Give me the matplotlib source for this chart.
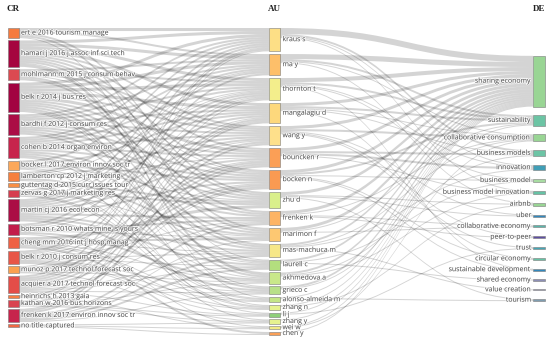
import matplotlib
matplotlib.use("Agg")
import matplotlib.pyplot as plt
from matplotlib.path import Path
from matplotlib.patches import PathPatch, Rectangle
import matplotlib.patheffects as pe

# ---------------- data ----------------
cr_names = ["ert e 2016 tourism manage", "hamari j 2016 j assoc inf sci tech",
            "mohlmann m 2015 j consum behav", "belk r 2014 j bus res",
            "bardhi f 2012 j consum res", "cohen b 2014 organ environ",
            "bocker l 2017 environ innov soc tr", "lamberton cp 2012 j marketing",
            "guttentag d 2015 curr issues tour", "zervas g 2017 j marketing res",
            "martin cj 2016 ecol econ", "botsman r 2010 whats mine is yours",
            "cheng mm 2016 int j hosp manag", "belk r 2010 j consum res",
            "munoz p 2017 technol forecast soc", "acquier a 2017 technol forecast soc",
            "heinrichs h 2013 gaia", "kathan w 2016 bus horizons",
            "frenken k 2017 environ innov soc tr", "no title captured"]

au_names = ["kraus s", "ma y", "thornton t", "mangalagiu d", "wang y", "bouncken r",
            "bocken n", "zhu d", "frenken k", "marimon f", "mas-machuca m", "laurell c",
            "akhmedova a", "grieco c", "alonso-almeida m", "zhang n", "li j", "zhang y",
            "wei w", "chen y"]

de_names = ["sharing economy", "sustainability", "collaborative consumption",
            "business models", "innovation", "business model", "business model innovation",
            "airbnb", "uber", "collaborative economy", "peer-to-peer", "trust",
            "circular economy", "sustainable development", "shared economy",
            "value creation", "tourism"]

# CR -> AU links: (source, target, value)
links_cr_au = [
    ("ert e 2016 tourism manage", "kraus s", 3), ("ert e 2016 tourism manage", "ma y", 2),
    ("ert e 2016 tourism manage", "zhu d", 2), ("ert e 2016 tourism manage", "marimon f", 2),
    ("ert e 2016 tourism manage", "alonso-almeida m", 1),
    ("hamari j 2016 j assoc inf sci tech", "kraus s", 3), ("hamari j 2016 j assoc inf sci tech", "ma y", 3),
    ("hamari j 2016 j assoc inf sci tech", "thornton t", 3), ("hamari j 2016 j assoc inf sci tech", "mangalagiu d", 3),
    ("hamari j 2016 j assoc inf sci tech", "wang y", 2), ("hamari j 2016 j assoc inf sci tech", "bouncken r", 2),
    ("hamari j 2016 j assoc inf sci tech", "bocken n", 2), ("hamari j 2016 j assoc inf sci tech", "zhu d", 2),
    ("hamari j 2016 j assoc inf sci tech", "frenken k", 2), ("hamari j 2016 j assoc inf sci tech", "laurell c", 1),
    ("hamari j 2016 j assoc inf sci tech", "akhmedova a", 3),
    ("mohlmann m 2015 j consum behav", "ma y", 2), ("mohlmann m 2015 j consum behav", "thornton t", 2),
    ("mohlmann m 2015 j consum behav", "wang y", 2), ("mohlmann m 2015 j consum behav", "bocken n", 1),
    ("mohlmann m 2015 j consum behav", "marimon f", 2), ("mohlmann m 2015 j consum behav", "mas-machuca m", 2),
    ("belk r 2014 j bus res", "kraus s", 3), ("belk r 2014 j bus res", "ma y", 3),
    ("belk r 2014 j bus res", "thornton t", 3), ("belk r 2014 j bus res", "mangalagiu d", 3),
    ("belk r 2014 j bus res", "wang y", 2), ("belk r 2014 j bus res", "bouncken r", 3),
    ("belk r 2014 j bus res", "bocken n", 2), ("belk r 2014 j bus res", "zhu d", 2),
    ("belk r 2014 j bus res", "frenken k", 2), ("belk r 2014 j bus res", "mas-machuca m", 2),
    ("belk r 2014 j bus res", "akhmedova a", 2), ("belk r 2014 j bus res", "grieco c", 1),
    ("belk r 2014 j bus res", "zhang n", 1),
    ("bardhi f 2012 j consum res", "kraus s", 2), ("bardhi f 2012 j consum res", "ma y", 2),
    ("bardhi f 2012 j consum res", "thornton t", 2), ("bardhi f 2012 j consum res", "mangalagiu d", 2),
    ("bardhi f 2012 j consum res", "wang y", 2), ("bardhi f 2012 j consum res", "bouncken r", 2),
    ("bardhi f 2012 j consum res", "bocken n", 2), ("bardhi f 2012 j consum res", "zhu d", 2),
    ("bardhi f 2012 j consum res", "marimon f", 2), ("bardhi f 2012 j consum res", "laurell c", 2),
    ("cohen b 2014 organ environ", "kraus s", 2), ("cohen b 2014 organ environ", "ma y", 2),
    ("cohen b 2014 organ environ", "thornton t", 2), ("cohen b 2014 organ environ", "mangalagiu d", 2),
    ("cohen b 2014 organ environ", "wang y", 2), ("cohen b 2014 organ environ", "bouncken r", 2),
    ("cohen b 2014 organ environ", "bocken n", 2), ("cohen b 2014 organ environ", "frenken k", 2),
    ("cohen b 2014 organ environ", "mas-machuca m", 2), ("cohen b 2014 organ environ", "grieco c", 2),
    ("cohen b 2014 organ environ", "li j", 1),
    ("bocker l 2017 environ innov soc tr", "kraus s", 2), ("bocker l 2017 environ innov soc tr", "mangalagiu d", 2),
    ("bocker l 2017 environ innov soc tr", "bocken n", 2), ("bocker l 2017 environ innov soc tr", "zhu d", 1),
    ("bocker l 2017 environ innov soc tr", "laurell c", 1), ("bocker l 2017 environ innov soc tr", "zhang y", 1),
    ("lamberton cp 2012 j marketing", "ma y", 2), ("lamberton cp 2012 j marketing", "thornton t", 1),
    ("lamberton cp 2012 j marketing", "wang y", 2), ("lamberton cp 2012 j marketing", "bouncken r", 1),
    ("lamberton cp 2012 j marketing", "marimon f", 2), ("lamberton cp 2012 j marketing", "akhmedova a", 1),
    ("guttentag d 2015 curr issues tour", "zhu d", 2), ("guttentag d 2015 curr issues tour", "alonso-almeida m", 1),
    ("guttentag d 2015 curr issues tour", "zhang n", 1),
    ("zervas g 2017 j marketing res", "ma y", 1), ("zervas g 2017 j marketing res", "thornton t", 1),
    ("zervas g 2017 j marketing res", "zhu d", 2), ("zervas g 2017 j marketing res", "marimon f", 1),
    ("zervas g 2017 j marketing res", "alonso-almeida m", 1), ("zervas g 2017 j marketing res", "zhang n", 1),
    ("martin cj 2016 ecol econ", "kraus s", 2), ("martin cj 2016 ecol econ", "ma y", 2),
    ("martin cj 2016 ecol econ", "thornton t", 2), ("martin cj 2016 ecol econ", "mangalagiu d", 2),
    ("martin cj 2016 ecol econ", "wang y", 2), ("martin cj 2016 ecol econ", "bouncken r", 2),
    ("martin cj 2016 ecol econ", "bocken n", 2), ("martin cj 2016 ecol econ", "frenken k", 2),
    ("martin cj 2016 ecol econ", "mas-machuca m", 2), ("martin cj 2016 ecol econ", "laurell c", 2),
    ("martin cj 2016 ecol econ", "grieco c", 2),
    ("botsman r 2010 whats mine is yours", "kraus s", 2), ("botsman r 2010 whats mine is yours", "thornton t", 2),
    ("botsman r 2010 whats mine is yours", "wang y", 1), ("botsman r 2010 whats mine is yours", "frenken k", 2),
    ("botsman r 2010 whats mine is yours", "marimon f", 1), ("botsman r 2010 whats mine is yours", "akhmedova a", 2),
    ("botsman r 2010 whats mine is yours", "wei w", 1),
    ("cheng mm 2016 int j hosp manag", "zhu d", 3), ("cheng mm 2016 int j hosp manag", "marimon f", 2),
    ("cheng mm 2016 int j hosp manag", "mas-machuca m", 1), ("cheng mm 2016 int j hosp manag", "akhmedova a", 1),
    ("cheng mm 2016 int j hosp manag", "alonso-almeida m", 1), ("cheng mm 2016 int j hosp manag", "zhang n", 1),
    ("cheng mm 2016 int j hosp manag", "chen y", 2),
    ("belk r 2010 j consum res", "ma y", 2), ("belk r 2010 j consum res", "thornton t", 1),
    ("belk r 2010 j consum res", "mangalagiu d", 1), ("belk r 2010 j consum res", "bouncken r", 1),
    ("belk r 2010 j consum res", "bocken n", 1), ("belk r 2010 j consum res", "frenken k", 1),
    ("belk r 2010 j consum res", "mas-machuca m", 1), ("belk r 2010 j consum res", "laurell c", 1),
    ("belk r 2010 j consum res", "grieco c", 1), ("belk r 2010 j consum res", "li j", 1),
    ("belk r 2010 j consum res", "alonso-almeida m", 1), ("belk r 2010 j consum res", "zhang n", 1),
    ("munoz p 2017 technol forecast soc", "kraus s", 1), ("munoz p 2017 technol forecast soc", "bouncken r", 2),
    ("munoz p 2017 technol forecast soc", "bocken n", 2), ("munoz p 2017 technol forecast soc", "akhmedova a", 1),
    ("munoz p 2017 technol forecast soc", "zhang y", 1),
    ("acquier a 2017 technol forecast soc", "kraus s", 2), ("acquier a 2017 technol forecast soc", "thornton t", 2),
    ("acquier a 2017 technol forecast soc", "mangalagiu d", 2), ("acquier a 2017 technol forecast soc", "wang y", 2),
    ("acquier a 2017 technol forecast soc", "bouncken r", 2), ("acquier a 2017 technol forecast soc", "bocken n", 2),
    ("acquier a 2017 technol forecast soc", "frenken k", 1), ("acquier a 2017 technol forecast soc", "mas-machuca m", 1),
    ("acquier a 2017 technol forecast soc", "laurell c", 1), ("acquier a 2017 technol forecast soc", "grieco c", 1),
    ("acquier a 2017 technol forecast soc", "li j", 1),
    ("heinrichs h 2013 gaia", "mangalagiu d", 1), ("heinrichs h 2013 gaia", "bocken n", 1),
    ("heinrichs h 2013 gaia", "wei w", 1),
    ("kathan w 2016 bus horizons", "kraus s", 1), ("kathan w 2016 bus horizons", "bouncken r", 2),
    ("kathan w 2016 bus horizons", "akhmedova a", 1), ("kathan w 2016 bus horizons", "zhang y", 1),
    ("kathan w 2016 bus horizons", "li j", 1),
    ("frenken k 2017 environ innov soc tr", "thornton t", 1), ("frenken k 2017 environ innov soc tr", "mangalagiu d", 2),
    ("frenken k 2017 environ innov soc tr", "wang y", 2), ("frenken k 2017 environ innov soc tr", "frenken k", 2),
    ("frenken k 2017 environ innov soc tr", "marimon f", 1), ("frenken k 2017 environ innov soc tr", "mas-machuca m", 2),
    ("frenken k 2017 environ innov soc tr", "laurell c", 2), ("frenken k 2017 environ innov soc tr", "grieco c", 1),
    ("no title captured", "wei w", 1), ("no title captured", "chen y", 1), ("no title captured", "zhang y", 1),
]

# AU -> DE links: (source, target, value)
links_au_de = [
    ("kraus s", "sharing economy", 6), ("kraus s", "business models", 2), ("kraus s", "innovation", 1),
    ("kraus s", "business model innovation", 1),
    ("ma y", "sharing economy", 5), ("ma y", "sustainability", 2), ("ma y", "collaborative consumption", 1),
    ("ma y", "airbnb", 1),
    ("thornton t", "sharing economy", 4), ("thornton t", "sustainability", 2), ("thornton t", "innovation", 1),
    ("thornton t", "business model", 1), ("thornton t", "sustainable development", 1),
    ("mangalagiu d", "sharing economy", 3), ("mangalagiu d", "sustainability", 2),
    ("mangalagiu d", "circular economy", 1), ("mangalagiu d", "business models", 1),
    ("mangalagiu d", "collaborative consumption", 1),
    ("wang y", "sharing economy", 3), ("wang y", "collaborative consumption", 2), ("wang y", "uber", 1),
    ("wang y", "peer-to-peer", 1), ("wang y", "trust", 1),
    ("bouncken r", "sharing economy", 3), ("bouncken r", "business models", 2), ("bouncken r", "innovation", 2),
    ("bouncken r", "business model innovation", 1),
    ("bocken n", "sharing economy", 3), ("bocken n", "sustainability", 2), ("bocken n", "business model", 1),
    ("bocken n", "circular economy", 1), ("bocken n", "sustainable development", 1),
    ("zhu d", "sharing economy", 3), ("zhu d", "airbnb", 1), ("zhu d", "uber", 1), ("zhu d", "tourism", 1),
    ("frenken k", "sharing economy", 3), ("frenken k", "collaborative consumption", 1),
    ("frenken k", "collaborative economy", 1), ("frenken k", "peer-to-peer", 1),
    ("marimon f", "sharing economy", 3), ("marimon f", "sustainability", 1), ("marimon f", "collaborative economy", 1),
    ("mas-machuca m", "sharing economy", 2), ("mas-machuca m", "collaborative consumption", 1),
    ("mas-machuca m", "value creation", 1), ("mas-machuca m", "innovation", 1),
    ("laurell c", "sharing economy", 2), ("laurell c", "business model", 1), ("laurell c", "shared economy", 1),
    ("akhmedova a", "sharing economy", 2), ("akhmedova a", "business models", 1),
    ("akhmedova a", "business model innovation", 1),
    ("grieco c", "sharing economy", 2), ("grieco c", "sustainability", 1),
    ("alonso-almeida m", "sharing economy", 1), ("alonso-almeida m", "tourism", 1),
    ("zhang n", "sharing economy", 1), ("zhang n", "airbnb", 1),
    ("li j", "sharing economy", 1), ("li j", "trust", 1),
    ("zhang y", "sharing economy", 1),
    ("wei w", "sharing economy", 1), ("wei w", "collaborative consumption", 1),
    ("chen y", "sharing economy", 1),
]

# ---------------- styles ----------------
cr_colors = ["#f57a3e", "#a5053f", "#db4a51", "#a20441", "#ab0d45", "#c7244c", "#fca85a",
             "#f6803f", "#f88f45", "#d63d4f", "#ab0d45", "#c21d4b", "#ee6145", "#e85647",
             "#fba14f", "#e44d48", "#f77e43", "#d94350", "#c7244c", "#f06844"]
au_colors = ["#fddf86", "#fdbf6a", "#f3ee8c", "#fdd87c", "#fee08b", "#fb9f56", "#fa9a52",
             "#d9ef8b", "#fdb465", "#fdc872", "#f6e788", "#b3de7e", "#c9e88a", "#b8e089",
             "#c4e586", "#e6f28f", "#8fcf79", "#e6f28f", "#f2ea86", "#fba057"]
de_colors = ["#99d594", "#6cc4a4", "#99d594", "#6cc4a5", "#409eb6", "#a8dca2", "#66c2a5",
             "#99d594", "#3288bd", "#5ab4aa", "#5e4fa2", "#46a6b5", "#66c2a5", "#3288bd",
             "#8c8fb5", "#9f9fbf", "#7f9db0"]

W, H = 550, 343
top, bottom = 28.0, 335.0
col_pad = [2.3, 2.7, 8.8]
col_x = [8.0, 269.0, 533.0]
node_w = [10.5, 11.0, 12.0]
de_shift = -3.0
text_col = "#505050"

fig = plt.figure(figsize=(W / 100, H / 100), dpi=100)
ax = fig.add_axes([0, 0, 1, 1])
ax.set_xlim(0, W)
ax.set_ylim(H, 0)
ax.axis("off")

columns = [cr_names, au_names, de_names]
col_links = [links_cr_au, links_au_de]

# node values (max of in/out)
vals = []
for ci, names in enumerate(columns):
    v = {}
    for n in names:
        vin = sum(l[2] for l in col_links[ci - 1] if l[1] == n) if ci > 0 else 0
        vout = sum(l[2] for l in col_links[ci] if l[0] == n) if ci < 2 else 0
        v[n] = max(vin, vout)
    vals.append(v)

ky = min((bottom - top - (len(c) - 1) * col_pad[i]) / sum(vals[i].values())
         for i, c in enumerate(columns[:2]))

# node positions
pos = []
for ci, names in enumerate(columns):
    p = {}
    g = col_pad[ci]
    total = sum(vals[ci][n] for n in names) * ky + (len(names) - 1) * g
    y = top if ci < 2 else (top + bottom) / 2 - total / 2 + de_shift
    for n in names:
        h = vals[ci][n] * ky
        p[n] = (y, y + h)
        y += h + g
    pos.append(p)

# links
def band(x0, y0a, y0b, x1, y1a, y1b):
    xm = (x0 + x1) / 2
    verts = [(x0, y0a), (xm, y0a), (xm, y1a), (x1, y1a),
             (x1, y1b), (xm, y1b), (xm, y0b), (x0, y0b), (x0, y0a)]
    codes = [Path.MOVETO, Path.CURVE4, Path.CURVE4, Path.CURVE4,
             Path.LINETO, Path.CURVE4, Path.CURVE4, Path.CURVE4, Path.CLOSEPOLY]
    return Path(verts, codes)

for ci, links in enumerate(col_links):
    sp, tp = pos[ci], pos[ci + 1]
    out_off = {n: sp[n][0] for n in sp}
    in_off = {n: tp[n][0] for n in tp}
    out_order = sorted(range(len(links)), key=lambda i: (sp[links[i][0]][0], tp[links[i][1]][0]))
    in_order = sorted(range(len(links)), key=lambda i: (tp[links[i][1]][0], sp[links[i][0]][0]))
    ys = {}
    for i in out_order:
        s, t, v = links[i]
        ys[i] = [out_off[s], out_off[s] + v * ky]
        out_off[s] += v * ky
    yt = {}
    for i in in_order:
        s, t, v = links[i]
        yt[i] = [in_off[t], in_off[t] + v * ky]
        in_off[t] += v * ky
    x0 = col_x[ci] + node_w[ci]
    x1 = col_x[ci + 1]
    for i in range(len(links)):
        path = band(x0, ys[i][0], ys[i][1], x1, yt[i][0], yt[i][1])
        ax.add_patch(PathPatch(path, facecolor=(0, 0, 0, 0.17), edgecolor="none", zorder=1))

# nodes and labels
halo = [pe.withStroke(linewidth=1.2, foreground=(1, 1, 1, 0.8))]
all_colors = [cr_colors, au_colors, de_colors]
for ci, names in enumerate(columns):
    for n, c in zip(names, all_colors[ci]):
        y0, y1 = pos[ci][n]
        ax.add_patch(Rectangle((col_x[ci], y0), node_w[ci], y1 - y0, facecolor=c,
                               edgecolor="#7a7a7a", linewidth=0.4, zorder=3))
        yc = (y0 + y1) / 2
        if ci < 2:
            ax.text(col_x[ci] + node_w[ci] + 2.5, yc, n, fontsize=5.0, family="Open Sans",
                    color=text_col, va="center", ha="left", zorder=4, path_effects=halo)
        else:
            ax.text(col_x[ci] - 1.5, yc, n, fontsize=5.0, family="Open Sans",
                    color=text_col, va="center", ha="right", zorder=4, path_effects=halo)

headers = ["CR", "AU", "DE"]
for ci, h in enumerate(headers):
    ax.text(col_x[ci] + node_w[ci] / 2, 9, h, fontsize=6.5, family="Liberation Serif",
            weight="bold", color="#222222", ha="center", va="center")

fig.savefig("out.png", dpi=100)
